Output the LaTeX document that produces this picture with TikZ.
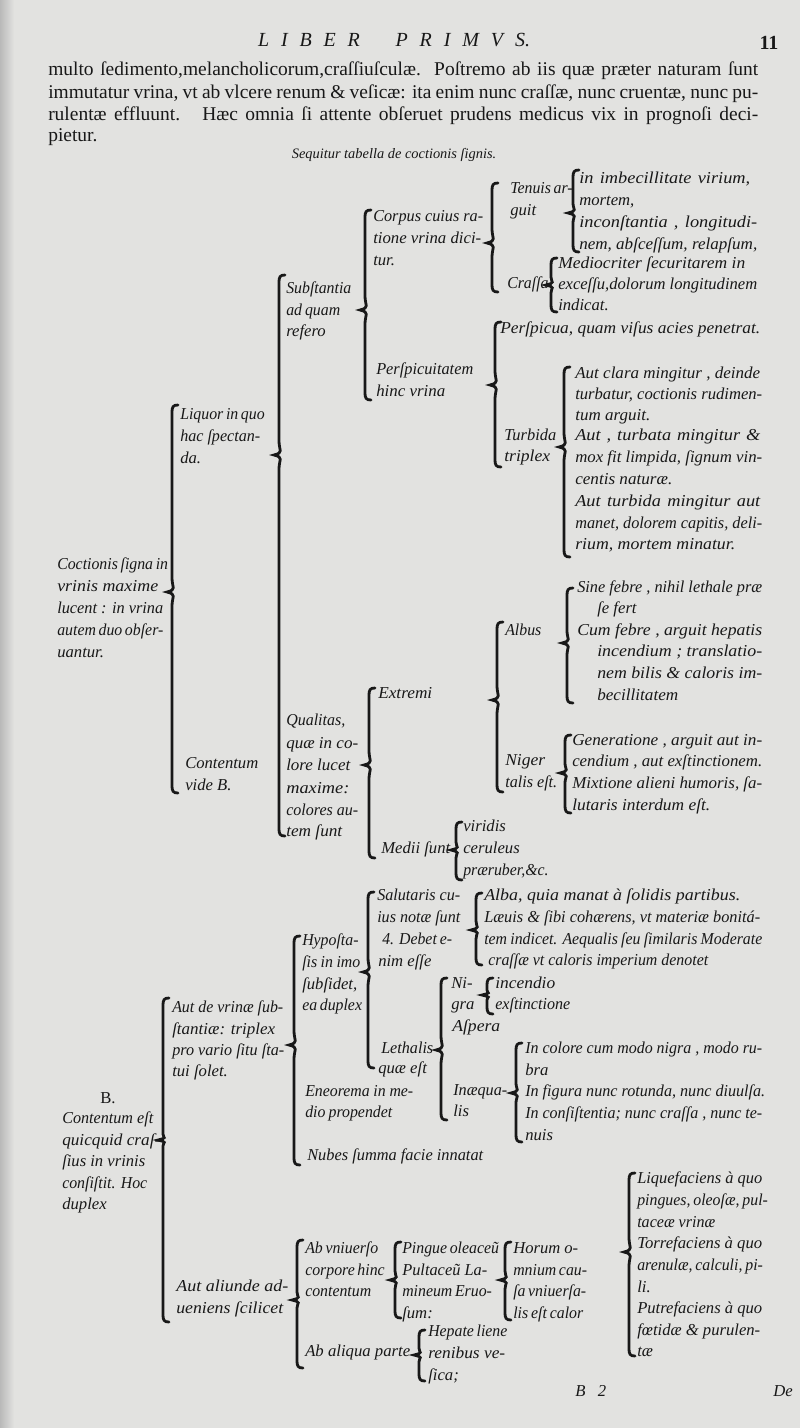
\documentclass[tikz,border=0pt]{standalone}
\usepackage{graphicx}
\usepackage{fontspec}
\setmainfont{Liberation Serif}
\definecolor{paper}{HTML}{E2E2E0}
\definecolor{ink}{HTML}{181818}
\tikzset{
  tx/.style={anchor=mid west, inner sep=0pt, text=ink, font=\fontsize{12.5}{15}\selectfont\itshape},
  bd/.style={anchor=mid west, inner sep=0pt, text=ink, font=\fontsize{14.6}{16}\selectfont},
  brc/.style={draw=ink, line width=2.1pt, line cap=round},
}
\newsavebox\fitbox
% fit a line to a width (pt): glyphs scaled within 0.95..1.10, the rest by word spaces
\newcommand\fitline[2]{%
  \sbox\fitbox{#2}%
  \pgfmathsetmacro\fitr{min(1.10,max(0.95,#1/\wd\fitbox))}%
  \pgfmathsetmacro\fitw{#1/\fitr}%
  \scalebox{\fitr}[1]{\makebox[\fitw pt][s]{#2}}}
\newcommand\T[4]{\node[tx] (#1) at (#2,#3) {#4};}
% fitted line: {name}{x}{y}{right x}{text}
\newcommand\J[5]{\node[tx] (#1) at (#2,#3) {\fitline{(#4-#2)*0.75}{#5}};}
% brace: [cusp half-height]{x}{top}{cusp}{bottom}
\newcommand\br[5][14]{%
  \draw[brc] (#2+6,#3) .. controls (#2+1,#3) and (#2,#3+2) .. (#2,#3+7)
   -- (#2,#4-#1) .. controls (#2,#4-#1*0.3) and (#2+5,#4-2.5) .. (#2-5,#4)
   .. controls (#2+5,#4+2.5) and (#2,#4+#1*0.3) .. (#2,#4+#1)
   -- (#2,#5-7) .. controls (#2,#5-2) and (#2+1,#5) .. (#2+6,#5);}
\begin{document}
\begin{tikzpicture}[x=0.75pt,y=-0.75pt]
\fill[paper] (0,0) rectangle (800,1428);
\shade[left color=gray!55, right color=paper] (0,0) rectangle (14,1428);
\useasboundingbox (0,0) rectangle (800,1428);
% header
\node[inner sep=0pt, text=ink, font=\fontsize{15}{18}\selectfont\itshape] (hd) at (394,40) {\makebox[204pt][s]{L I B E R\ \ \ P R I M V S.}};
\node[inner sep=0pt, text=ink, font=\fontsize{15}{18}\selectfont\bfseries] (pg) at (769,43) {11};
\node[bd] (b1) at (48,72) {\makebox[532.5pt][s]{multo ſedimento,melancholicorum,craſſiuſculæ.\ \ Poſtremo ab iis quæ præter naturam ſunt}};
\node[bd] (b2) at (48,95) {\makebox[532.5pt][s]{immutatur vrina, vt ab vlcere renum \& veſicæ: ita enim nunc craſſæ, nunc cruentæ, nunc pu-}};
\node[bd] (b3) at (48,117) {\makebox[532.5pt][s]{rulentæ effluunt.\ \ \ Hæc omnia ſi attente obſeruet prudens medicus vix in prognoſi deci-}};
\node[bd] (b4) at (48,138) {pietur.};
\node[inner sep=0pt, text=ink, font=\fontsize{10.8}{12}\selectfont\itshape] (cap) at (394,155) {Sequitur tabella de coctionis ſignis.};
% ---- column A
\J{a1}{57}{566}{163}{Coctionis ſigna in}
\J{a2}{57}{588}{158}{vrinis maxime}
\J{a3}{57}{610}{163}{lucent : in vrina}
\J{a4}{57}{632}{163}{autem duo obſer-}
\T{a5}{57}{654}{uantur.}
% ---- column B
\J{l1}{180}{416}{262}{Liquor in quo}
\J{l2}{180}{438}{260}{hac ſpectan-}
\T{l3}{180}{460}{da.}
\J{c1}{185}{765}{258}{Contentum}
\T{c2}{185}{787}{vide B.}
% ---- column C
\J{s1}{286}{290}{346}{Subſtantia}
\J{s2}{286}{312}{340}{ad quam}
\T{s3}{286}{333}{refero}
\J{q1}{286}{722}{345}{Qualitas,}
\J{q2}{286}{745}{358}{quæ in co-}
\J{q3}{286}{767}{350}{lore lucet}
\J{q4}{286}{790}{350}{maxime:}
\J{q5}{286}{812}{358}{colores au-}
\J{q6}{286}{833}{342}{tem ſunt}
% ---- column D
\J{co1}{373}{218}{483}{Corpus cuius ra-}
\J{co2}{373}{240}{481}{tione vrina dici-}
\T{co3}{373}{262}{tur.}
\J{pe1}{376}{371}{473}{Perſpicuitatem}
\J{pe2}{376}{393}{445}{hinc vrina}
\J{ex}{378}{695}{432}{Extremi}
\J{me}{381}{850}{450}{Medii ſunt}
% ---- column E
\J{te1}{510}{190}{565}{Tenuis ar-}
\T{te2}{510}{212}{guit}
\J{cr}{507}{285}{545}{Craſſa}
\J{ps}{500}{330}{760}{Perſpicua, quam viſus acies penetrat.}
\J{tu1}{504}{437}{556}{Turbida}
\J{tu2}{504}{458}{550}{triplex}
\J{al}{505}{632}{540}{Albus}
\J{ni1}{505}{762}{545}{Niger}
\J{ni2}{505}{784}{557}{talis eſt.}
\T{v1}{463}{828}{viridis}
\T{v2}{463}{850}{ceruleus}
\J{v3}{463}{872}{545}{præruber,\&c.}
% ---- column F
\J{f1}{579}{180}{750}{in imbecillitate virium,}
\T{f2}{579}{202}{mortem,}
\J{f3}{579}{224}{757}{inconſtantia , longitudi-}
\J{f4}{579}{246}{757}{nem, abſceſſum, relapſum,}
\J{g1}{558}{265}{745}{Mediocriter ſecuritarem in}
\J{g2}{558}{286}{757}{exceſſu,dolorum longitudinem}
\T{g3}{558}{307}{indicat.}
\J{h1}{575}{375}{760}{Aut clara mingitur , deinde}
\J{h2}{575}{396}{762}{turbatur, coctionis rudimen-}
\J{h3}{575}{417}{650}{tum arguit.}
\J{h4}{575}{437}{760}{Aut , turbata mingitur \&}
\J{h5}{575}{459}{762}{mox fit limpida, ſignum vin-}
\J{h6}{575}{481}{672}{centis naturæ.}
\J{h7}{575}{503}{760}{Aut turbida mingitur aut}
\J{h8}{575}{525}{762}{manet, dolorem capitis, deli-}
\J{h9}{575}{546}{735}{rium, mortem minatur.}
\J{k1}{577}{589}{762}{Sine febre , nihil lethale præ}
\T{k2}{597}{610}{ſe fert}
\J{k3}{577}{632}{762}{Cum febre , arguit hepatis}
\J{k4}{597}{653}{762}{incendium ; translatio-}
\J{k5}{597}{675}{762}{nem bilis \& caloris im-}
\J{k6}{597}{697}{678}{becillitatem}
\J{m1}{572}{742}{762}{Generatione , arguit aut in-}
\J{m2}{572}{763}{762}{cendium , aut exſtinctionem.}
\J{m3}{572}{785}{762}{Mixtione alieni humoris, ſa-}
\J{m4}{572}{807}{710}{lutaris interdum eſt.}
% ---- part B
\node[tx, anchor=mid] (B) at (108,1100) {\upshape B.};
\J{bb1}{62}{1120}{153}{Contentum eſt}
\J{bb2}{62}{1142}{160}{quicquid craſ-}
\J{bb3}{62}{1163}{145}{ſius in vrinis}
\J{bb4}{62}{1185}{147}{conſiſtit. Hoc}
\T{bb5}{62}{1206}{duplex}
\J{ad1}{172}{1009}{283}{Aut de vrinæ ſub-}
\J{ad2}{172}{1031}{275}{ſtantiæ: triplex}
\J{ad3}{172}{1052}{284}{pro vario ſitu ſta-}
\T{ad4}{172}{1073}{tui ſolet.}
\J{aa1}{176}{1288}{288}{Aut aliunde ad-}
\J{aa2}{176}{1310}{283}{ueniens ſcilicet}
\J{hy1}{302}{942}{358}{Hypoſta-}
\J{hy2}{302}{964}{360}{ſis in imo}
\J{hy3}{302}{986}{357}{ſubſidet,}
\J{hy4}{302}{1007}{360}{ea duplex}
\J{en1}{305}{1093}{413}{Eneorema in me-}
\J{en2}{305}{1114}{392}{dio propendet}
\J{nu}{307}{1157}{483}{Nubes ſumma facie innatat}
\J{sa1}{377}{897}{460}{Salutaris cu-}
\J{sa2}{377}{919}{460}{ius notæ ſunt}
\J{sa3}{382}{941}{452}{4. Debet e-}
\T{sa4}{378}{963}{nim eſſe}
\J{le1}{381}{1050}{433}{Lethalis}
\T{le2}{378}{1070}{quæ eſt}
\J{ab1}{484}{897}{740}{Alba, quia manat à ſolidis partibus.}
\J{ab2}{484}{919}{760}{Læuis \& ſibi cohærens, vt materiæ bonitá-}
\J{ab3}{484}{941}{762}{tem indicet. Aequalis ſeu ſimilaris Moderate}
\J{ab4}{488}{962}{708}{craſſæ vt caloris imperium denotet}
\T{ng1}{451}{985}{Ni-}
\T{ng2}{451}{1006}{gra}
\J{as}{452}{1028}{500}{Aſpera}
\J{in1}{453}{1092}{507}{Inæqua-}
\T{in2}{453}{1113}{lis}
\J{ic1}{495}{985}{555}{incendio}
\J{ic2}{495}{1006}{570}{exſtinctione}
\J{ik1}{525}{1050}{762}{In colore cum modo nigra , modo ru-}
\T{ik2}{525}{1072}{bra}
\J{ik3}{525}{1093}{765}{In figura nunc rotunda, nunc diuulſa.}
\J{ik4}{525}{1115}{762}{In conſiſtentia; nunc craſſa , nunc te-}
\T{ik5}{525}{1137}{nuis}
\J{un1}{305}{1250}{378}{Ab vniuerſo}
\J{un2}{305}{1272}{383}{corpore hinc}
\J{un3}{305}{1293}{370}{contentum}
\J{ap}{305}{1353}{410}{Ab aliqua parte}
\J{pi1}{402}{1250}{493}{Pingue oleaceũ}
\J{pi2}{402}{1272}{487}{Pultaceũ La-}
\J{pi3}{402}{1293}{490}{mineum Eruo-}
\T{pi4}{402}{1315}{ſum:}
\J{ho1}{513}{1250}{578}{Horum o-}
\J{ho2}{513}{1272}{582}{mnium cau-}
\J{ho3}{513}{1293}{585}{ſa vniuerſa-}
\J{ho4}{513}{1315}{583}{lis eſt calor}
\J{hp1}{428}{1333}{505}{Hepate liene}
\J{hp2}{428}{1355}{505}{renibus ve-}
\T{hp3}{428}{1377}{ſica;}
\J{lq1}{637}{1180}{762}{Liquefaciens à quo}
\J{lq2}{637}{1202}{762}{pingues, oleoſæ, pul-}
\J{lq3}{637}{1224}{715}{taceæ vrinæ}
\J{lq4}{637}{1245}{762}{Torrefaciens à quo}
\J{lq5}{637}{1267}{762}{arenulæ, calculi, pi-}
\T{lq6}{637}{1289}{li.}
\J{lq7}{637}{1310}{762}{Putrefaciens à quo}
\J{lq8}{637}{1332}{760}{fœtidæ \& purulen-}
\T{lq9}{637}{1353}{tæ}
% footer
\T{sig}{575}{1393}{B\ \ \ 2}
\T{cw}{773}{1393}{De}
% ---- braces
\br{172}{405}{592}{793}
\br{279}{275}{455}{836}
\br{365}{210}{310}{400}
\br{492}{183}{243}{292}
\br[10]{573}{170}{213}{252}
\br[8]{551}{258}{285}{312}
\br{495}{322}{385}{467}
\br{564}{367}{447}{557}
\br{369}{688}{765}{858}
\br{497}{622}{700}{792}
\br[12]{567}{588}{643}{703}
\br[10]{565}{735}{773}{813}
\br[8]{456}{822}{850}{880}
\br[6]{163}{998}{1140}{1322}
\br{294}{936}{1045}{1165}
\br{368}{892}{972}{1068}
\br[9]{476}{893}{930}{965}
\br{441}{978}{1050}{1120}
\br[5]{487}{978}{995}{1014}
\br[10]{516}{1043}{1093}{1142}
\br[8]{297}{1240}{1300}{1368}
\br[9]{395}{1242}{1280}{1318}
\br[9]{505}{1242}{1280}{1320}
\br[7]{419}{1330}{1355}{1381}
\br{629}{1173}{1252}{1356}
\end{tikzpicture}
\end{document}
